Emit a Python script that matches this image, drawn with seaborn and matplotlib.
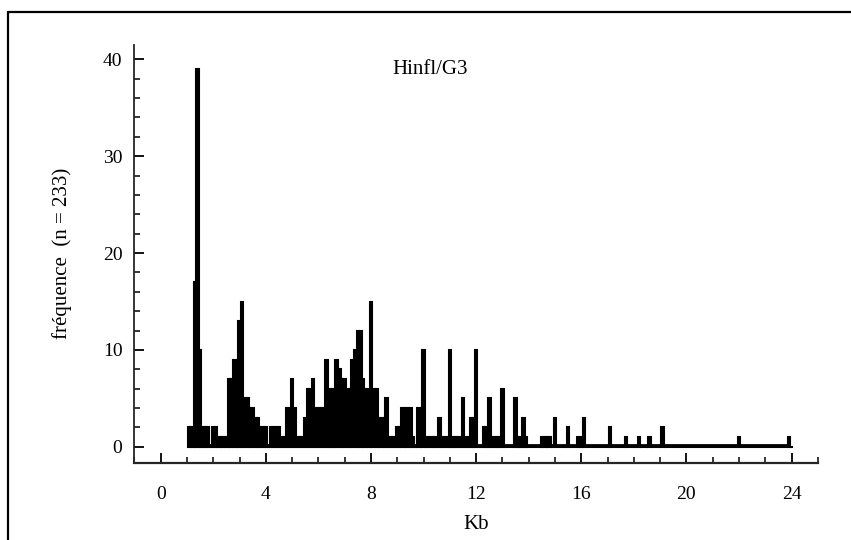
import numpy as np
import pandas as pd
import matplotlib
matplotlib.use("Agg")
import matplotlib.pyplot as plt
import seaborn as sns
from matplotlib.ticker import MultipleLocator

# fragment size (kb, bin centre) and frequency
kb = [1.1, 1.2, 1.3, 1.4, 1.5, 1.6, 1.7, 1.8,
      2.0, 2.1, 2.2, 2.3, 2.4, 2.5, 2.6, 2.7, 2.8, 2.9,
      3.0, 3.1, 3.2, 3.3, 3.4, 3.5, 3.6, 3.7, 3.8, 3.9,
      4.0, 4.2, 4.3, 4.4, 4.5, 4.6, 4.7, 4.8, 4.9,
      5.0, 5.1, 5.2, 5.3, 5.4, 5.5, 5.6, 5.7, 5.8, 5.9,
      6.0, 6.1, 6.2, 6.3, 6.4, 6.5, 6.6, 6.7, 6.8, 6.9,
      7.0, 7.1, 7.2, 7.3, 7.4, 7.5, 7.6, 7.7, 7.8, 7.9,
      8.0, 8.1, 8.2, 8.3, 8.4, 8.5, 8.6, 8.7, 8.8, 8.9,
      9.0, 9.1, 9.2, 9.3, 9.4, 9.5, 9.6, 9.8, 9.9,
      10.0, 10.1, 10.2, 10.3, 10.4, 10.5, 10.6, 10.7, 10.8, 10.9,
      11.0, 11.1, 11.2, 11.3, 11.4, 11.5, 11.6, 11.7, 11.8, 11.9,
      12.0, 12.3, 12.4, 12.5, 12.6, 12.7, 12.8, 12.9,
      13.0, 13.5, 13.6, 13.7, 13.8, 13.9,
      14.5, 14.6, 14.7, 14.8,
      15.0, 15.5, 15.9, 16.0, 16.1,
      17.1, 17.7, 18.2, 18.6, 19.1, 22.0, 23.9]
freq = [2, 2, 17, 39, 10, 2, 2, 2,
        2, 2, 1, 1, 1, 1, 7, 7, 9, 9,
        13, 15, 5, 5, 4, 4, 3, 3, 2, 2,
        2, 2, 2, 2, 2, 1, 1, 4, 4,
        7, 4, 1, 1, 1, 3, 6, 6, 7, 4,
        4, 4, 4, 9, 6, 6, 6, 9, 8, 7,
        7, 6, 6, 9, 10, 12, 12, 7, 6, 6,
        15, 6, 6, 3, 3, 3, 5, 1, 1, 1,
        2, 2, 4, 4, 4, 4, 1, 4, 4,
        10, 1, 1, 1, 1, 1, 3, 1, 1, 1,
        10, 1, 1, 1, 1, 5, 1, 1, 3, 3,
        10, 2, 2, 5, 1, 1, 1, 1,
        6, 5, 1, 1, 3, 1,
        1, 1, 1, 1,
        3, 2, 1, 1, 3,
        2, 1, 1, 1, 2, 1, 1]

df = pd.DataFrame({"kb": kb, "freq": freq})

sns.set_theme(style="ticks")
plt.rcParams["font.family"] = ["Liberation Serif", "DejaVu Serif"]

fig = plt.figure(figsize=(8.51, 5.4), dpi=100)
ax = fig.add_axes([0.157, 0.143, 0.804, 0.774])

sns.histplot(data=df, x="kb", weights="freq", binwidth=0.1, binrange=(1.05, 24.05),
             color="black", edgecolor="black", linewidth=1.5, alpha=1, ax=ax)
# thin black floor under the histogram
ax.hlines(0.2, df["kb"].min() - 0.05, df["kb"].max() + 0.05, color="black", lw=2)

ax.set_xlim(-1.03, 25)
ax.set_ylim(-1.65, 41.5)
sns.despine(ax=ax)
ax.spines["left"].set_linewidth(1.3)
ax.spines["bottom"].set_linewidth(1.6)

ax.xaxis.set_major_locator(MultipleLocator(4))
ax.xaxis.set_minor_locator(MultipleLocator(1))
ax.yaxis.set_major_locator(MultipleLocator(10))
ax.yaxis.set_minor_locator(MultipleLocator(2))
ax.tick_params(axis="both", which="major", direction="in", length=7, width=1.3,
               labelsize=14, color="black", labelcolor="black")
ax.tick_params(axis="both", which="minor", direction="in", length=4, width=1.1, color="black")
ax.tick_params(axis="x", which="major", pad=17)
ax.tick_params(axis="y", which="major", pad=8)

ax.set_xlabel("Kb", fontsize=15, labelpad=8, color="black")
ax.set_ylabel("fréquence  (n = 233)", fontsize=15, labelpad=22, color="black")
ax.text(0.433, 0.94, "Hinfl/G3", transform=ax.transAxes, ha="center", va="center",
        fontsize=15, color="black")

# outer frame of the scanned figure
fig.add_artist(plt.Line2D([0.0094, 1.0], [0.978, 0.978], transform=fig.transFigure,
                          color="black", lw=1.6))
fig.add_artist(plt.Line2D([0.0094, 0.0094], [0.0, 0.978], transform=fig.transFigure,
                          color="black", lw=1.6))

fig.savefig("out.png", dpi=100)
